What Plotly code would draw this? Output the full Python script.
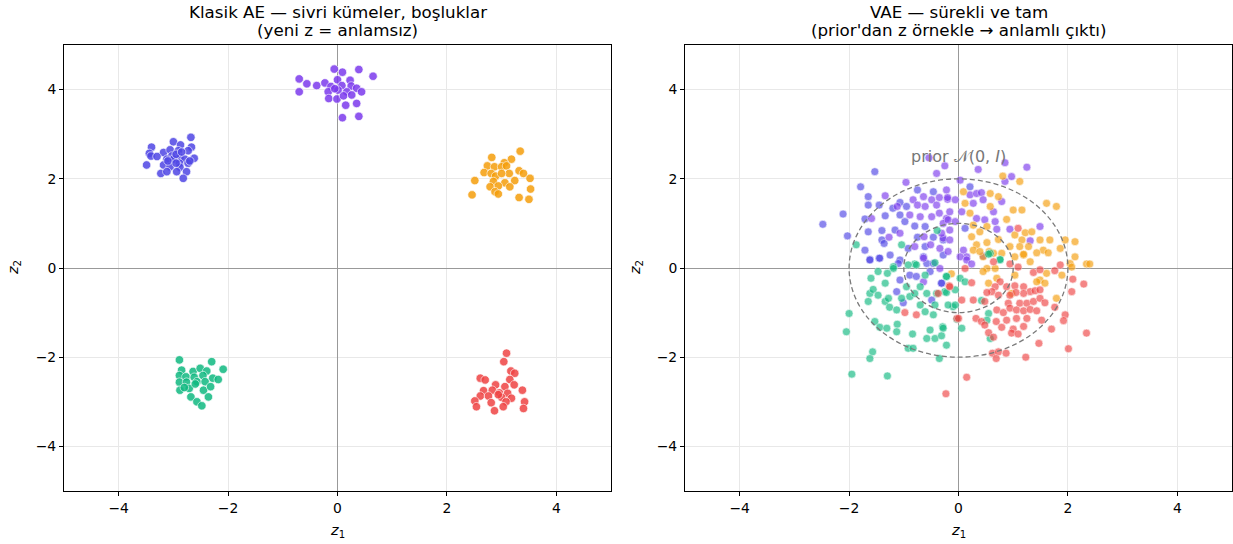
import plotly.graph_objects as go

# ---------------- Classic AE latent codes (left panel) ----------------
ae_indigo_x = [-2.68, -3.40, -3.00, -2.87, -2.67, -3.44, -3.18, -3.06, -2.91, -2.73, -3.41, -3.03, -2.88, -2.62,
               -3.12, -3.00, -2.79, -3.49, -3.18, -2.89, -2.73, -3.06, -2.88, -3.23, -3.12, -2.76, -2.82, -2.94,
               -2.95, -3.10, -2.85, -2.70, -3.30, -2.95]
ae_indigo_y = [2.93, 2.71, 2.83, 2.76, 2.71, 2.57, 2.59, 2.65, 2.63, 2.63, 2.51, 2.51, 2.48, 2.46,
               2.44, 2.44, 2.44, 2.31, 2.31, 2.35, 2.35, 2.27, 2.26, 2.12, 2.16, 2.16, 2.01, 2.16,
               2.55, 2.40, 2.60, 2.40, 2.50, 2.35]

ae_violet_x = [-0.06, 0.09, 0.39, 0.65, -0.70, -0.56, -0.38, -0.23, 0.00, 0.23, -0.70, -0.12, 0.08, 0.25,
               0.35, 0.44, -0.17, 0.01, 0.17, -0.16, -0.01, 0.11, 0.15, 0.35, 0.09, 0.39, -0.05, 0.26]
ae_violet_y = [4.46, 4.39, 4.45, 4.30, 4.24, 4.13, 4.09, 4.15, 4.22, 4.21, 3.95, 4.07, 4.09, 4.08,
               4.03, 3.95, 3.95, 3.99, 3.95, 3.80, 3.79, 3.86, 3.65, 3.69, 3.37, 3.40, 4.02, 3.88]

ae_orange_x = [3.34, 3.18, 2.82, 3.05, 2.74, 2.87, 3.00, 3.09, 2.68, 2.81, 2.89, 3.14, 3.32, 3.40, 3.52,
               2.51, 2.85, 3.06, 3.24, 2.79, 2.94, 3.15, 3.53, 2.88, 2.94, 2.46, 3.32, 3.50, 3.00]
ae_orange_y = [2.62, 2.44, 2.48, 2.36, 2.29, 2.27, 2.27, 2.29, 2.14, 2.12, 2.06, 2.12, 2.18, 2.12, 2.01,
               1.96, 1.94, 1.91, 1.96, 1.82, 1.84, 1.82, 1.77, 1.71, 1.66, 1.64, 1.58, 1.54, 2.12]

ae_green_x = [-2.89, -2.30, -2.09, -2.85, -2.64, -2.51, -2.39, -2.89, -2.77, -2.62, -2.46, -2.28, -2.18, -2.89,
              -2.76, -2.57, -2.42, -2.88, -2.71, -2.45, -2.32, -2.36, -2.68, -2.57, -2.48, -2.80, -2.60]
ae_green_y = [-2.06, -2.10, -2.27, -2.29, -2.32, -2.25, -2.31, -2.41, -2.44, -2.45, -2.41, -2.47, -2.50, -2.56,
              -2.56, -2.55, -2.55, -2.74, -2.70, -2.74, -2.66, -2.89, -2.89, -3.00, -3.09, -2.68, -2.60]

ae_red_x = [3.09, 3.04, 3.17, 3.24, 2.61, 2.70, 3.15, 2.89, 3.06, 3.23, 2.67, 2.83, 2.96, 3.11,
            3.38, 2.61, 2.76, 3.00, 3.18, 2.51, 2.81, 3.08, 3.42, 2.54, 2.87, 3.03, 3.40, 2.94]
ae_red_y = [-1.91, -2.10, -2.31, -2.36, -2.47, -2.51, -2.50, -2.62, -2.66, -2.62, -2.75, -2.74, -2.80, -2.81,
            -2.74, -2.87, -2.87, -2.90, -2.92, -2.98, -3.02, -3.00, -3.00, -3.11, -3.20, -3.11, -3.15, -2.84]

# ---------------- VAE latent codes (right panel) ----------------
vae_indigo_x = [-1.53, -1.79, -0.75, -0.46, -1.65, -1.07, -1.65, -1.45, -1.20, -0.95, -2.11, -1.71, -1.34,
                -1.07, -2.48, -0.98, -0.80, -0.61, -1.65, -1.40, -1.16, -2.03, -1.40, -0.75, -0.46, -1.71,
                -1.36, -0.92, -0.61, -1.62, -1.45, -1.07, 0.21, 0.12, -0.28, -1.25, -1.62, -1.44, -1.10,
                -0.64, -0.58, -0.46, -0.28, -0.31, -0.89, -0.77, -0.52, -1.07, -1.13, -1.01, -0.49, -0.31]
vae_indigo_y = [2.16, 1.82, 1.75, 1.71, 1.60, 1.47, 1.41, 1.41, 1.34, 1.38, 1.21, 1.10, 1.17,
                1.19, 0.98, 1.04, 0.94, 0.93, 0.81, 0.84, 0.85, 0.72, 0.63, 0.69, 0.69, 0.40,
                0.55, 0.44, 0.48, 0.19, 0.22, 0.18, 1.82, 0.89, 0.63, 0.29, 0.18, 0.22, 0.10,
                0.25, 0.10, 0.10, 0.29, -0.34, -0.16, -0.19, -0.08, -0.27, -0.53, -0.78, -0.72, -0.34]

vae_violet_x = [-0.25, -0.40, -0.96, -0.22, -1.34, -0.83, -0.64, -0.49, -0.35, -0.20, -1.12, -0.75, -0.61,
                -0.40, -1.59, -0.89, -0.70, -0.49, -0.35, -0.22, -0.28, -1.07, -1.27, -0.63, -0.28, -0.80,
                -0.51, -0.34, -0.64, -0.54, 0.85, 1.25, 0.36, 0.97, 0.85, 0.03, 0.21, 0.33, 0.42, -0.20,
                -0.06, 0.27, 0.45, 0.79, 0.64, -0.16, 0.06, 0.33, 0.48, 0.67, -0.19, -0.06, 0.70, 0.94,
                1.49, -0.16, -0.31, 1.31, -0.16, 0.09, 0.15, -0.19, 0.03, 0.15, 0.24, 0.45, -0.34, -0.64]
vae_violet_y = [2.29, 2.12, 1.92, 1.75, 1.62, 1.53, 1.60, 1.53, 1.58, 1.54, 1.38, 1.41, 1.38,
                1.41, 1.11, 1.19, 1.15, 1.15, 1.23, 1.11, 1.00, 0.78, 0.69, 0.70, 0.67, 0.48,
                0.52, 0.44, 0.22, 2.47, 2.36, 2.26, 2.21, 2.05, 1.94, 1.97, 1.64, 1.67, 1.69, 1.58,
                1.53, 1.45, 1.53, 1.49, 1.26, 1.26, 1.26, 1.11, 1.08, 1.04, 1.08, 1.04, 0.87, 0.87,
                0.93, 0.85, 0.78, 0.61, 0.63, 0.40, 0.25, 0.37, 0.25, 0.18, 0.09, 0.27, -0.01, -0.31]

vae_orange_x = [0.81, 1.12, 0.09, 0.58, 0.73, 1.61, 1.79, 0.12, 0.58, 1.00, 1.16, 0.21, 0.88, 0.27, 0.52,
                1.22, 1.34, 0.39, 1.03, 1.16, 1.49, 1.67, 1.95, 2.13, 0.24, 0.33, 0.52, 0.73, 0.94, 1.12,
                1.28, 1.55, 1.86, 0.27, 0.45, 0.64, 1.03, 1.19, 2.13, 2.34, 2.04, 0.39, 0.56, 1.19, 1.43,
                1.64, 2.40, 2.07, 1.89, 1.61, 1.49, 1.58, 1.43, 0.55, 0.97, 1.03, 1.31, 0.52, 0.45, 0.67,
                0.79, 1.79, 0.70, -0.13]
vae_orange_y = [2.06, 1.94, 1.71, 1.67, 1.60, 1.45, 1.38, 1.45, 1.38, 1.30, 1.30, 1.23, 1.09, 0.96, 0.93,
                0.79, 0.81, 0.81, 0.74, 0.63, 0.63, 0.63, 0.63, 0.59, 0.70, 0.52, 0.57, 0.64, 0.48, 0.48,
                0.48, 0.40, 0.44, 0.40, 0.25, 0.33, 0.25, 0.29, 0.25, 0.09, 0.10, 0.37, 0.37, 0.31, 0.34,
                0.34, 0.09, 0.02, -0.16, -0.12, -0.27, -0.34, -0.31, -0.34, -0.57, -0.16, 0.14, -0.01, -0.08, -0.01,
                0.33, -0.68, -0.23, -0.13]

vae_green_x = [-0.39, -1.87, -1.04, -0.80, -0.43, -1.19, 0.76, 0.58, -2.00, -2.05, -1.65, -1.62, -1.60,
               -1.56, -1.47, -1.34, -1.28, -1.26, -1.13, -1.19, -1.47, -1.34, -1.30, -1.04, -0.95, -0.89,
               -0.80, -0.70, -0.61, -0.70, -0.58, -0.43, -0.46, -0.40, -0.25, -0.10, -1.53, -1.44, -1.31,
               -1.12, -1.13, -0.84, -0.58, -0.52, -0.43, -0.29, -0.31, -0.22, -0.92, -0.83, -1.57, -1.62,
               -0.35, -1.95, -1.30, -0.92, -0.77, -0.61, -0.22, 0.55, 0.76, -0.22, 0.03, 0.12, -0.06,
               -0.22, -0.19, -0.06, 0.42, 0.55, -0.03, 0.06, -0.28, 0.52, 0.58]
vae_green_y = [0.84, 0.52, 0.52, 0.09, 0.12, 0.03, 0.18, 0.33, -1.02, -1.43, -0.75, -0.57, -0.23,
               -0.48, -0.61, -0.75, -0.68, -0.88, -0.94, -0.01, -0.08, -0.34, -0.12, -0.68, -0.42, -0.64,
               -0.57, -0.83, -0.98, -0.42, -0.57, -0.83, -1.05, -0.57, -0.53, -0.87, -1.20, -1.33, -1.35,
               -1.26, -1.43, -1.48, -1.58, -1.39, -1.58, -1.32, -1.52, -1.73, -1.80, -1.80, -1.88, -2.03,
               -2.03, -2.38, -2.42, 0.07, 0.07, -0.16, -0.19, 0.31, 0.19, -0.19, -0.23, -0.31, -0.49,
               -0.55, -0.83, -0.83, -0.73, -1.02, -1.15, -1.35, -1.35, -1.17, -1.58]

vae_red_x = [1.09, -0.98, -0.77, -0.37, -0.17, -0.03, 0.94, 1.09, 1.37, 1.49, 1.76, 1.86, 2.09, 2.29, 2.07,
             0.24, -0.16, 0.12, 0.64, 0.76, 0.67, 0.61, 0.73, 0.88, 1.03, 1.19, 1.31, 1.40, 1.49, 1.19,
             1.05, 0.94, 0.52, 0.06, 0.27, 0.48, 0.91, 1.12, 1.25, 1.37, 1.49, 1.58, 0.70, 0.82, 0.94,
             1.06, 1.19, 1.31, 1.43, 1.76, 1.95, 1.92, 0.00, 0.32, 0.42, 0.69, 0.88, 1.06, 1.25, 1.52,
             0.48, 0.79, 1.00, 1.19, 1.70, 2.34, 0.55, 0.64, 0.97, 1.09, 1.47, 2.01, 0.62, 0.73, 0.87,
             0.69, 1.23, 0.15, -0.23]
vae_red_y = [0.89, -1.00, -1.05, -0.57, -0.40, -1.13, 0.09, 0.02, -0.10, -0.04, -0.06, 0.07, -0.25, -0.36, -0.53,
             -0.33, -0.42, -0.01, 0.14, -0.31, -0.42, -0.53, -0.61, -0.42, -0.40, -0.42, -0.53, -0.51, -0.49, -0.57,
             -0.55, -0.61, -0.55, -0.72, -0.72, -0.75, -0.79, -0.79, -0.79, -0.75, -0.68, -0.78, -0.94, -1.00, -0.90,
             -0.94, -0.96, -0.93, -0.96, -0.88, -1.05, -1.18, -1.13, -1.13, -1.20, -1.20, -1.17, -1.13, -1.13, -1.17,
             -1.28, -1.33, -1.37, -1.31, -1.37, -1.46, -1.45, -1.55, -1.46, -1.48, -1.69, -1.81, -1.91, -1.88, -1.91,
             -2.03, -2.00, -2.45, -2.82]

class_colors = ["#4f46e5", "#7c3aed", "#f59e0b", "#10b981", "#ef4444"]
prior_radii = [1, 2]
tick_vals = [-4, -2, 0, 2, 4]
axis_range = [-5, 5]

ae_sets = [(ae_indigo_x, ae_indigo_y), (ae_violet_x, ae_violet_y), (ae_orange_x, ae_orange_y),
           (ae_green_x, ae_green_y), (ae_red_x, ae_red_y)]
vae_sets = [(vae_indigo_x, vae_indigo_y), (vae_violet_x, vae_violet_y), (vae_orange_x, vae_orange_y),
            (vae_green_x, vae_green_y), (vae_red_x, vae_red_y)]

fig = go.Figure()
for (xs, ys), col in zip(ae_sets, class_colors):
    fig.add_trace(go.Scatter(x=xs, y=ys, mode="markers", xaxis="x", yaxis="y",
                             marker=dict(size=8.5, color=col, opacity=0.85,
                                         line=dict(color="white", width=0.7)),
                             showlegend=False, hoverinfo="skip"))
for (xs, ys), col in zip(vae_sets, class_colors):
    fig.add_trace(go.Scatter(x=xs, y=ys, mode="markers", xaxis="x2", yaxis="y2",
                             marker=dict(size=8, color=col, opacity=0.65,
                                         line=dict(color="white", width=0.6)),
                             showlegend=False, hoverinfo="skip"))

# dashed prior contours
for r in prior_radii:
    fig.add_shape(type="circle", xref="x2", yref="y2", x0=-r, x1=r, y0=-r, y1=r,
                  line=dict(color="#7a7a7a", width=1.3, dash="5px,3px"), layer="above")

font = "DejaVu Sans, sans-serif"
ax_common = dict(range=axis_range, tickvals=tick_vals, showgrid=True, gridcolor="#e8e8e8", gridwidth=1,
                 zeroline=True, zerolinecolor="#999999", zerolinewidth=1.1,
                 showline=True, linecolor="black", linewidth=1, mirror=True,
                 ticks="outside", ticklen=4, tickcolor="black",
                 tickfont=dict(family=font, size=13.9, color="black"))

L = 544.0
ydom = [1 - 491 / L, 1 - 45 / L]
fig.update_layout(
    width=1233, height=544,
    margin=dict(l=0, r=0, t=0, b=0),
    paper_bgcolor="white", plot_bgcolor="white",
    xaxis=dict(domain=[64 / 1233, 611 / 1233], anchor="y", **ax_common),
    yaxis=dict(domain=ydom, anchor="x", **ax_common),
    xaxis2=dict(domain=[685 / 1233, 1232 / 1233], anchor="y2", **ax_common),
    yaxis2=dict(domain=ydom, anchor="x2", **ax_common),
    font=dict(family=font, color="black"),
)

titles = [
    ("x", "Klasik AE — sivri kümeler, boşluklar", "(yeni z = anlamsız)"),
    ("x2", "VAE — sürekli ve tam", "(prior'dan z örnekle → anlamlı çıktı)"),
]
for xr, line1, line2 in titles:
    for txt, ypx in ((line1, 12), (line2, 30)):
        fig.add_annotation(text=txt, xref=xr, x=0, yref="paper", y=1 - ypx / L,
                           xanchor="center", yanchor="middle", showarrow=False,
                           font=dict(family=font, size=16.7, color="black"))
    fig.add_annotation(text="<i>z</i><sub>1</sub>", xref=xr, x=0, yref="paper", y=1 - 531 / L,
                       xanchor="center", yanchor="middle", showarrow=False,
                       font=dict(family=font, size=14.5, color="black"))

for xpx in (14, 636):
    fig.add_annotation(text="<i>z</i><sub>2</sub>", xref="paper", x=xpx / 1233, yref="paper", y=1 - 268 / L,
                       xanchor="center", yanchor="middle", textangle=-90, showarrow=False,
                       font=dict(family=font, size=14.5, color="black"))

fig.add_annotation(text="prior 𝒩(0, <i>I</i>)", xref="x2", x=0, yref="y2", y=2.5,
                   xanchor="center", yanchor="middle", showarrow=False,
                   font=dict(family=font, size=16, color="#777777"))

fig.write_html("out.html")
